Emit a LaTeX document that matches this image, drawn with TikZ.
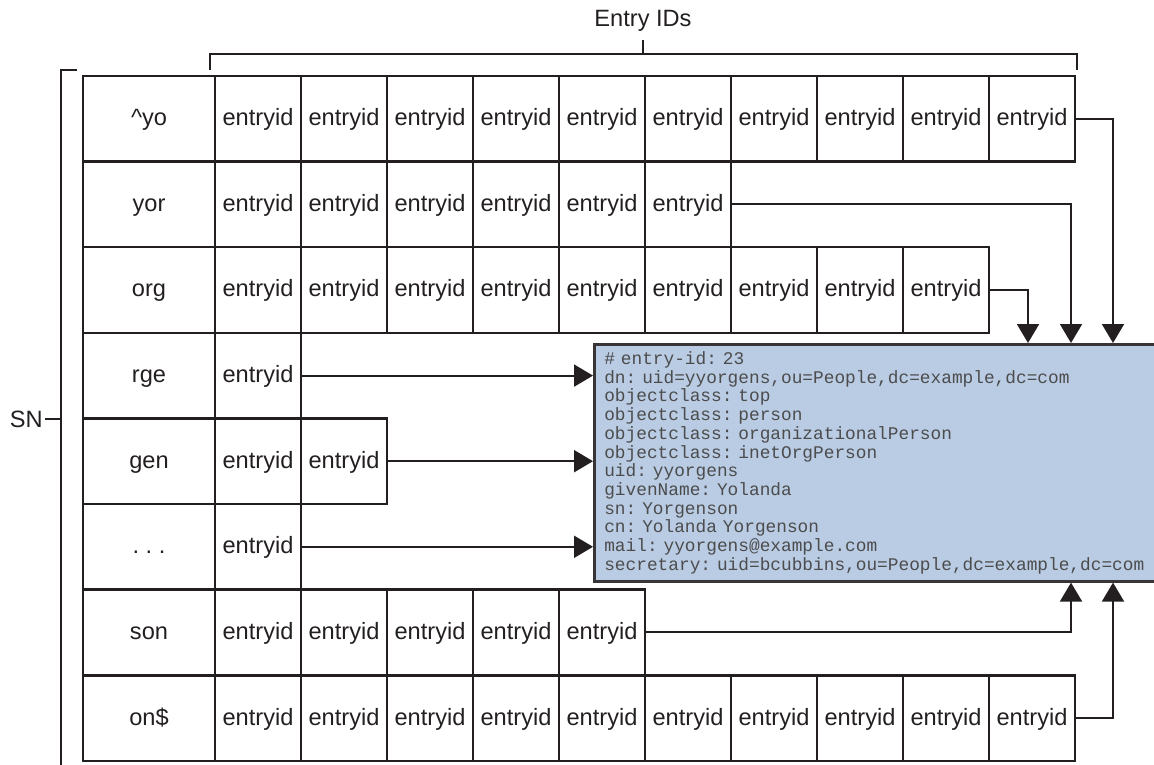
\documentclass[tikz,border=0pt]{standalone}
\usepackage{fontspec}
\setmainfont{Liberation Sans}
\newfontfamily\monofont{Liberation Mono}
\usepackage{tikz}
\usetikzlibrary{arrows.meta, positioning}

\definecolor{cajaazul}{RGB}{185,204,228}
\definecolor{tinta}{RGB}{35,31,32}

\newcommand\fuentecaja{\monofont\fontsize{8.9pt}{9.35pt}\selectfont\frenchspacing
  \fontdimen2\font=0.6em\fontdimen3\font=0pt\fontdimen4\font=0pt\relax}

\tikzset{
  celda/.style={draw=tinta, line width=1.3pt, inner sep=0pt, minimum height=42.8pt,
    text height=7pt, text depth=0pt, text=tinta, font=\fontsize{11.8pt}{14pt}\selectfont},
  clave/.style={celda, minimum width=66pt},
  entrada/.style={celda, minimum width=43pt},
  enlace/.style={draw=tinta, line width=1pt, -{Triangle[width=11pt,length=9.5pt]}},
  llave/.style={draw=tinta, line width=1pt},
  registro/.style={draw=tinta!90, line width=1.3pt, fill=cajaazul, inner xsep=5pt, inner ysep=0pt,
    minimum width=283.5pt, minimum height=118.5pt, text width=273.5pt, align=left,
    text=black!70, font=\fuentecaja}
}

\begin{document}
\begin{tikzpicture}[x=0.5pt, y=-0.5pt]
\useasboundingbox (0,0) rectangle (1154,764);

% corchete superior: Entry IDs
\node[text=tinta, font=\fontsize{11.8pt}{14pt}\selectfont] (ids) at (643,21) {Entry IDs};
\draw[llave] (210,70) -- (210,54) -- (1077,54) -- (1077,70);
\draw[llave] (643,54) -- (643,40);

% corchete izquierdo: SN
\node[text=tinta, font=\fontsize{11.8pt}{14pt}\selectfont, anchor=east, inner sep=1pt] (sn) at (45,419) {SN};
\draw[llave] (77,70) -- (61,70) -- (61,770);
\coordinate (snbarra) at (61,419);
\draw[llave] (sn.east) -- (snbarra);

% filas del indice
\foreach \key/\num [count=\r] in {\textasciicircum yo/10, yor/6, org/9, rge/1, gen/2, {.\ .\ .}/1, son/5, on\$/10} {
  \node[clave] (r\r) at (149,{118.8+85.6*(\r-1)}) {\key};
  \foreach \k in {1,...,\num}
    \node[entrada] (r\r-\k) at ({258+86*(\k-1)},{118.8+85.6*(\r-1)}) {entryid};
}

% registro de la entrada
\node[registro, anchor=north west] (entry) at (593,343) {%
\# entry-id: 23\\
dn: uid=yyorgens,ou=People,dc=example,dc=com\\
objectclass: top\\
objectclass: person\\
objectclass: organizationalPerson\\
objectclass: inetOrgPerson\\
uid: yyorgens\\
givenName: Yolanda\\
sn: Yorgenson\\
cn: Yolanda Yorgenson\\
mail: yyorgens@example.com\\
secretary: uid=bcubbins,ou=People,dc=example,dc=com};

% enlaces
\coordinate (colA) at (1028,0);
\coordinate (colB) at (1071,0);
\coordinate (colC) at (1113,0);
\draw[enlace] (r1-10.east) -| (entry.north -| colC);
\draw[enlace] (r2-6.east) -| (entry.north -| colB);
\draw[enlace] (r3-9.east) -| (entry.north -| colA);
\draw[enlace] (r4-1.east) -- (entry.west |- r4-1.east);
\draw[enlace] (r5-2.east) -- (entry.west |- r5-2.east);
\draw[enlace] (r6-1.east) -- (entry.west |- r6-1.east);
\draw[enlace] (r7-5.east) -| (entry.south -| colB);
\draw[enlace] (r8-10.east) -| (entry.south -| colC);
\end{tikzpicture}
\end{document}
